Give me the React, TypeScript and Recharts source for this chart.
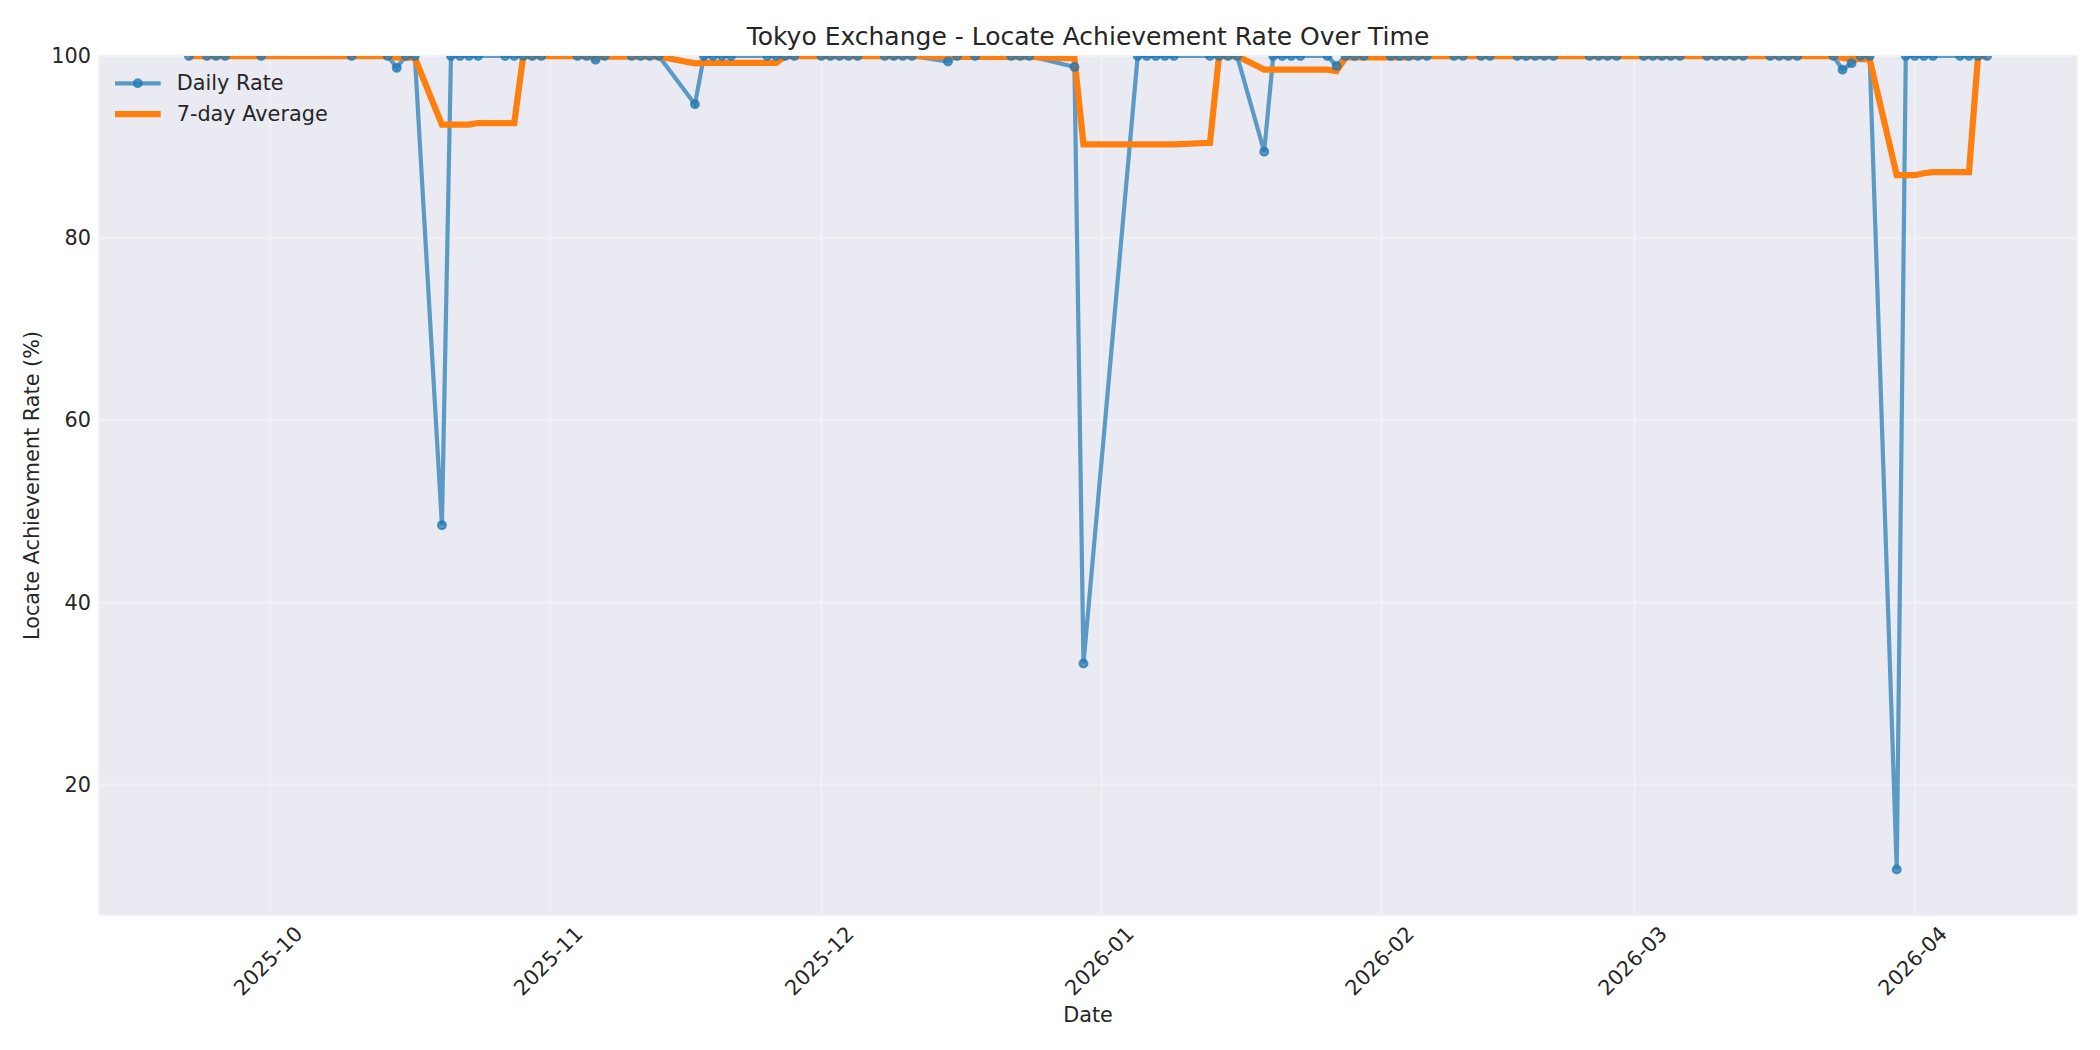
import React from 'react';
import { LineChart, Line, XAxis, YAxis, CartesianGrid } from 'recharts';

// ---- data ----
const dates = [
  '2025-09-22', '2025-09-24', '2025-09-25', '2025-09-26', '2025-09-30',
  '2025-10-10', '2025-10-14', '2025-10-15', '2025-10-16', '2025-10-17',
  '2025-10-20', '2025-10-21', '2025-10-22', '2025-10-23', '2025-10-24',
  '2025-10-27', '2025-10-28', '2025-10-29', '2025-10-30', '2025-10-31',
  '2025-11-04', '2025-11-05', '2025-11-06', '2025-11-07',
  '2025-11-10', '2025-11-11', '2025-11-12', '2025-11-13',
  '2025-11-17', '2025-11-18', '2025-11-19', '2025-11-20', '2025-11-21',
  '2025-11-25', '2025-11-26', '2025-11-27', '2025-11-28',
  '2025-12-01', '2025-12-02', '2025-12-03', '2025-12-04', '2025-12-05',
  '2025-12-08', '2025-12-09', '2025-12-10', '2025-12-11',
  '2025-12-15', '2025-12-16', '2025-12-18',
  '2025-12-22', '2025-12-23', '2025-12-24',
  '2025-12-29', '2025-12-30',
  '2026-01-05', '2026-01-06', '2026-01-07', '2026-01-08', '2026-01-09',
  '2026-01-13', '2026-01-14', '2026-01-15', '2026-01-16',
  '2026-01-19', '2026-01-20', '2026-01-21', '2026-01-22', '2026-01-23',
  '2026-01-26', '2026-01-27', '2026-01-28', '2026-01-29', '2026-01-30',
  '2026-02-02', '2026-02-03', '2026-02-04', '2026-02-05', '2026-02-06',
  '2026-02-09', '2026-02-10', '2026-02-12', '2026-02-13',
  '2026-02-16', '2026-02-17', '2026-02-18', '2026-02-19', '2026-02-20',
  '2026-02-24', '2026-02-25', '2026-02-26', '2026-02-27',
  '2026-03-02', '2026-03-03', '2026-03-04', '2026-03-05', '2026-03-06',
  '2026-03-09', '2026-03-10', '2026-03-11', '2026-03-12', '2026-03-13',
  '2026-03-16', '2026-03-17', '2026-03-18', '2026-03-19',
  '2026-03-23', '2026-03-24', '2026-03-25', '2026-03-26', '2026-03-27',
  '2026-03-30', '2026-03-31',
  '2026-04-01', '2026-04-02', '2026-04-03', '2026-04-06', '2026-04-07', '2026-04-08', '2026-04-09',
];

const dailyRate = [
  100, 100, 100, 100, 100,
  100, 100, 98.7, 100, 100,
  48.5, 100, 100, 100, 100,
  100, 100, 100, 100, 100,
  100, 100, 99.6, 100,
  100, 100, 100, 100,
  94.7, 100, 100, 100, 100,
  100, 100, 100, 100,
  100, 100, 100, 100, 100,
  100, 100, 100, 100,
  99.4, 100, 100,
  100, 100, 100,
  98.8, 33.3,
  100, 100, 100, 100, 100,
  100, 100, 100, 100,
  89.5, 100, 100, 100, 100,
  100, 98.9, 100, 100, 100,
  100, 100, 100, 100, 100,
  100, 100, 100, 100,
  100, 100, 100, 100, 100,
  100, 100, 100, 100,
  100, 100, 100, 100, 100,
  100, 100, 100, 100, 100,
  100, 100, 100, 100,
  100, 98.5, 99.2, 100, 100,
  10.7, 100,
  100, 100, 100, 100, 100, 100, 100,
];

const avgRate = [
  100, 100, 100, 100, 100,
  100, 100, 99.81, 99.81, 99.81,
  92.46, 92.46, 92.46, 92.46, 92.64,
  92.64, 92.64, 100, 100, 100,
  100, 100, 99.94, 99.94,
  99.94, 99.94, 99.94, 99.94,
  99.19, 99.24, 99.24, 99.24, 99.24,
  99.24, 99.24, 100, 100,
  100, 100, 100, 100, 100,
  100, 100, 100, 100,
  99.91, 99.91, 99.91,
  99.91, 99.91, 99.91,
  99.74, 90.3,
  90.3, 90.3, 90.3, 90.3, 90.3,
  90.47, 100, 100, 100,
  98.5, 98.5, 98.5, 98.5, 98.5,
  98.5, 98.34, 99.84, 99.84, 99.84,
  99.84, 99.84, 99.84, 100, 100,
  100, 100, 100, 100,
  100, 100, 100, 100, 100,
  100, 100, 100, 100,
  100, 100, 100, 100, 100,
  100, 100, 100, 100, 100,
  100, 100, 100, 100,
  100, 99.79, 99.67, 99.67, 99.67,
  86.91, 86.91,
  86.91, 87.13, 87.24, 87.24, 87.24, 100, 100,
];

const monthTicks = ['2025-10-01', '2025-11-01', '2025-12-01', '2026-01-01', '2026-02-01', '2026-03-01', '2026-04-01'];
const monthTickLabels = ['2025-10', '2025-11', '2025-12', '2026-01', '2026-02', '2026-03', '2026-04'];
const yTicks = [20, 40, 60, 80, 100];

const titleText = 'Tokyo Exchange - Locate Achievement Rate Over Time';
const xLabelText = 'Date';
const yLabelText = 'Locate Achievement Rate (%)';
const seriesNames = ['Daily Rate', '7-day Average'];

// ---- helpers ----
const FONT = '"DejaVu Sans", sans-serif';
const TEXT = '#262626';
const BLUE = '#1f77b4';
const ORANGE = '#ff7f0e';

const toDay = (s: string) =>
  Date.UTC(+s.slice(0, 4), +s.slice(5, 7) - 1, +s.slice(8, 10)) / 86400000;

const data = dates.map((d, i) => ({ t: toDay(d), daily: dailyRate[i], avg: avgRate[i] }));
const tickDays = monthTicks.map(toDay);
const labelByDay = new Map<number, string>(tickDays.map((t, i) => [t, monthTickLabels[i]]));
const firstDay = toDay(dates[0]);
const lastDay = toDay(dates[dates.length - 1]);
const xPad = (lastDay - firstDay) * 0.05;
const xDomain = [firstDay - xPad, lastDay + xPad];

const XTick = (props: any) => {
  const { x, y, payload } = props;
  const cx = x - 2;
  const cy = y + 46;
  return (
    <text
      x={cx}
      y={cy}
      textAnchor="middle"
      dominantBaseline="central"
      transform={`rotate(-45, ${cx}, ${cy})`}
      fontSize={20.8}
      fontFamily={FONT}
      fill={TEXT}
    >
      {labelByDay.get(payload.value)}
    </text>
  );
};

const YTick = (props: any) => {
  const { x, y, payload } = props;
  return (
    <text x={x} y={y} textAnchor="end" dominantBaseline="central" fontSize={20.8} fontFamily={FONT} fill={TEXT}>
      {payload.value}
    </text>
  );
};

export default function App() {
  return (
    <div style={{ position: 'absolute', left: 0, top: 0, width: 2100, height: 1050, background: '#ffffff' }}>
      <LineChart
        width={2100}
        height={1050}
        data={data}
        margin={{ top: 56, right: 23, bottom: 35, left: 39 }}
      >
        <CartesianGrid fill="#EAEAF2" fillOpacity={1} stroke="#F1F1F5" strokeWidth={2} />
        <XAxis
          dataKey="t"
          type="number"
          domain={xDomain}
          ticks={tickDays}
          interval={0}
          allowDataOverflow
          axisLine={false}
          tickLine={false}
          tickSize={0}
          tickMargin={0}
          height={100}
          tick={<XTick />}
        />
        <YAxis
          type="number"
          domain={[5.7, 100]}
          ticks={yTicks}
          interval={0}
          allowDataOverflow
          axisLine={false}
          tickLine={false}
          tickSize={0}
          tickMargin={8}
          width={60}
          tick={<YTick />}
        />
        <Line
          type="linear"
          dataKey="daily"
          stroke={BLUE}
          strokeOpacity={0.7}
          strokeWidth={4.2}
          dot={{ r: 4, fill: BLUE, fillOpacity: 0.7, stroke: BLUE, strokeOpacity: 0.7, strokeWidth: 2 }}
          activeDot={false}
          isAnimationActive={false}
        />
        <Line
          type="linear"
          dataKey="avg"
          stroke={ORANGE}
          strokeWidth={6.25}
          dot={false}
          activeDot={false}
          isAnimationActive={false}
        />
      </LineChart>
      <svg
        width={2100}
        height={1050}
        style={{ position: 'absolute', left: 0, top: 0, pointerEvents: 'none' }}
      >
        <text x={1088} y={45} textAnchor="middle" fontSize={25} fontFamily={FONT} fill={TEXT}>
          {titleText}
        </text>
        <text x={1088} y={1015} textAnchor="middle" dominantBaseline="central" fontSize={20.8} fontFamily={FONT} fill={TEXT}>
          {xLabelText}
        </text>
        <text
          x={32}
          y={485.5}
          textAnchor="middle"
          dominantBaseline="central"
          transform="rotate(-90, 32, 485.5)"
          fontSize={20.8}
          fontFamily={FONT}
          fill={TEXT}
        >
          {yLabelText}
        </text>
        {/* legend */}
        <g>
          <line x1={115} y1={83.3} x2={160.7} y2={83.3} stroke={BLUE} strokeOpacity={0.7} strokeWidth={4.2} />
          <circle cx={137.8} cy={83.3} r={4} fill={BLUE} fillOpacity={0.7} stroke={BLUE} strokeOpacity={0.7} strokeWidth={2} />
          <text x={176.7} y={83.3} dominantBaseline="central" fontSize={20.8} fontFamily={FONT} fill={TEXT}>
            {seriesNames[0]}
          </text>
          <line x1={115} y1={114} x2={160.7} y2={114} stroke={ORANGE} strokeWidth={6.25} />
          <text x={176.7} y={114} dominantBaseline="central" fontSize={20.8} fontFamily={FONT} fill={TEXT}>
            {seriesNames[1]}
          </text>
        </g>
      </svg>
    </div>
  );
}
